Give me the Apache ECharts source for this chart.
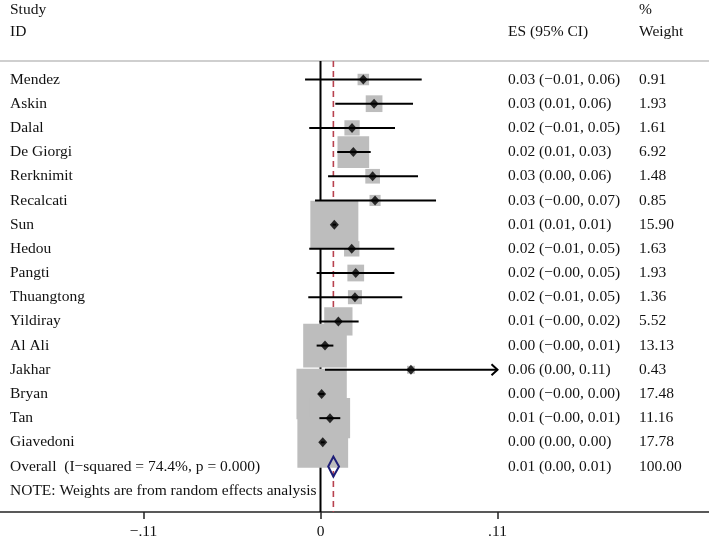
<!DOCTYPE html>
<html><head><meta charset="utf-8">
<script src="https://cdn.jsdelivr.net/npm/echarts@6/dist/echarts.min.js"></script>
<style>html,body{margin:0;padding:0;background:#fff}#c{width:709px;height:543px}</style>
</head><body><div id="c"></div>
<script>
// ---- data ----
const studies = ["Mendez","Askin","Dalal","De Giorgi","Rerknimit","Recalcati","Sun","Hedou","Pangti","Thuangtong","Yildiray","Al Ali","Jakhar","Bryan","Tan","Giavedoni"];
const es      = [0.0266,0.0333,0.0196,0.0204,0.0324,0.0339,0.0086,0.0194,0.0219,0.0214,0.0111,0.0028,0.0562,0.0007,0.0059,0.0014];
const ciLow   = [-0.0096,0.0092,-0.0070,0.0104,0.0047,-0.0034,0.0075,-0.0070,-0.0024,-0.0076,-0.0007,-0.0024,0.0028,-0.0012,-0.0007,0.0002];
const ciHigh  = [0.0629,0.0575,0.0463,0.0312,0.0606,0.0718,0.0097,0.0459,0.0459,0.0508,0.0237,0.0080,0.1120,0.0024,0.0123,0.0026];
const weights = [0.91,1.93,1.61,6.92,1.48,0.85,15.90,1.63,1.93,1.36,5.52,13.13,0.43,17.48,11.16,17.78];
const esLabels = ["0.03 (\u22120.01, 0.06)","0.03 (0.01, 0.06)","0.02 (\u22120.01, 0.05)","0.02 (0.01, 0.03)","0.03 (0.00, 0.06)","0.03 (\u22120.00, 0.07)","0.01 (0.01, 0.01)","0.02 (\u22120.01, 0.05)","0.02 (\u22120.00, 0.05)","0.02 (\u22120.01, 0.05)","0.01 (\u22120.00, 0.02)","0.00 (\u22120.00, 0.01)","0.06 (0.00, 0.11)","0.00 (\u22120.00, 0.00)","0.01 (\u22120.00, 0.01)","0.00 (0.00, 0.00)"];
const weightLabels = ["0.91","1.93","1.61","6.92","1.48","0.85","15.90","1.63","1.93","1.36","5.52","13.13","0.43","17.48","11.16","17.78"];
const overallLabel = "Overall  (I\u2212squared = 74.4%, p = 0.000)";
const overallES = 0.0080, overallLow = 0.0048, overallHigh = 0.0115;
const overallEsLabel = "0.01 (0.00, 0.01)";
const overallWeightLabel = "100.00";
const noteText = "NOTE: Weights are from random effects analysis";
const tickValues = [-0.11, 0, 0.11];
const tickLabels = ["\u2212.11", "0", ".11"];
const xClip = 0.11;

// ---- layout / style ----
const FONT = "'Liberation Serif','Times New Roman',serif";
const FS = 15.5;
const X_MIN = -0.19919, X_MAX = 0.24145;
const Y_MIN = -0.765, Y_MAX = 17.88;
const BOX_K = 12.04;
const COL_NAME = 10, COL_ES = 508, COL_W = 639;

const nStudies = studies.length;
const overallRow = nStudies, noteRow = nStudies + 1;

const textRows = [];
for (let i = 0; i < nStudies; i++) textRows.push([studies[i], esLabels[i], weightLabels[i], i]);
textRows.push([overallLabel, overallEsLabel, overallWeightLabel, overallRow]);
textRows.push([noteText, "", "", noteRow]);

const chart = echarts.init(document.getElementById('c'), null, {renderer: 'canvas'});
const txtStyle = (t, x, y) => ({type: 'text', x: x, y: y, style: {text: t, font: FS + 'px ' + FONT, fill: '#111', verticalAlign: 'middle', align: 'left'}});

chart.setOption({
  animation: false,
  backgroundColor: '#fff',
  grid: {left: 0, right: 0, top: 61, bottom: 31},
  xAxis: {
    type: 'value', min: X_MIN, max: X_MAX,
    splitLine: {show: false},
    axisLine: {show: true, onZero: false, lineStyle: {color: '#222', width: 1.5}},
    axisTick: {show: true, customValues: tickValues, length: 7, lineStyle: {color: '#222', width: 1.5}},
    axisLabel: {show: true, customValues: tickValues, margin: 12, fontFamily: FONT, fontSize: FS, color: '#111',
      formatter: v => { const k = tickValues.findIndex(t => Math.abs(t - v) < 1e-9); return k >= 0 ? tickLabels[k] : ''; }}
  },
  yAxis: {type: 'value', inverse: true, min: Y_MIN, max: Y_MAX, show: false},
  graphic: [
    {type: 'line', shape: {x1: 0, y1: 61, x2: 709, y2: 61}, style: {stroke: '#cfcfcf', lineWidth: 2}},
    txtStyle('Study', COL_NAME, 10),
    txtStyle('ID', COL_NAME, 32),
    txtStyle('ES (95% CI)', COL_ES, 32),
    txtStyle('%', COL_W, 10),
    txtStyle('Weight', COL_W, 32)
  ],
  series: [
    { // reference lines: null effect and overall effect
      type: 'custom', z: 1, clip: false,
      data: [[0, 0], [overallES, 1]],
      encode: {x: 0},
      renderItem: (params, api) => {
        const x = api.value(0), dashed = api.value(1) === 1;
        const a = api.coord([x, Y_MIN]), b = api.coord([x, Y_MAX]);
        return {type: 'line', shape: {x1: a[0], y1: a[1], x2: b[0], y2: b[1]},
          style: dashed ? {stroke: '#b8424f', lineWidth: 1.6, lineDash: [6, 4]} : {stroke: '#000', lineWidth: 2}};
      }
    },
    { // weight boxes
      type: 'custom', z: 2, clip: false,
      data: es.map((v, i) => [v, i, weights[i]]),
      encode: {x: 0, y: 1},
      renderItem: (params, api) => {
        const p = api.coord([api.value(0), api.value(1)]);
        const s = BOX_K * Math.sqrt(api.value(2));
        return {type: 'rect', shape: {x: p[0] - s / 2, y: p[1] - s / 2, width: s, height: s}, style: {fill: '#bdbdbd'}};
      }
    },
    { // confidence intervals
      type: 'custom', z: 3, clip: false,
      data: es.map((v, i) => [ciLow[i], ciHigh[i], i]),
      encode: {x: [0, 1], y: 2},
      renderItem: (params, api) => {
        const lo = api.value(0), hi = api.value(1), row = api.value(2);
        const a = api.coord([lo, row]), b = api.coord([Math.min(hi, xClip), row]);
        const ch = [{type: 'line', shape: {x1: a[0], y1: a[1], x2: b[0], y2: b[1]}, style: {stroke: '#000', lineWidth: 2}}];
        if (hi > xClip) ch.push({type: 'polyline', shape: {points: [[b[0] - 6, b[1] - 5.5], [b[0], b[1]], [b[0] - 6, b[1] + 5.5]]}, style: {stroke: '#000', lineWidth: 2, fill: null}});
        return {type: 'group', children: ch};
      }
    },
    { // point estimates
      type: 'scatter', z: 4, symbol: 'diamond', symbolSize: [9, 10],
      itemStyle: {color: '#000'},
      data: es.map((v, i) => [v, i])
    },
    { // overall diamond
      type: 'custom', z: 5, clip: false,
      data: [[overallES, overallLow, overallHigh, overallRow]],
      encode: {x: [0, 1, 2], y: 3},
      renderItem: (params, api) => {
        const row = api.value(3);
        const c = api.coord([api.value(0), row]);
        const l = api.coord([api.value(1), row]);
        const r = api.coord([api.value(2), row]);
        const h = 10;
        return {type: 'polygon', shape: {points: [[l[0], c[1]], [c[0], c[1] - h], [r[0], c[1]], [c[0], c[1] + h]]},
          style: {fill: 'rgba(0,0,0,0)', stroke: '#1e1e78', lineWidth: 2}};
      }
    },
    { // text columns
      type: 'custom', z: 6, clip: false,
      data: textRows.map(r => [0, r[3]]),
      encode: {y: 1},
      renderItem: (params, api) => {
        const r = textRows[params.dataIndex];
        const y = api.coord([0, r[3]])[1];
        return {type: 'group', children: [txtStyle(r[0], COL_NAME, y), txtStyle(r[1], COL_ES, y), txtStyle(r[2], COL_W, y)]};
      }
    }
  ]
});
</script>
</body></html>
